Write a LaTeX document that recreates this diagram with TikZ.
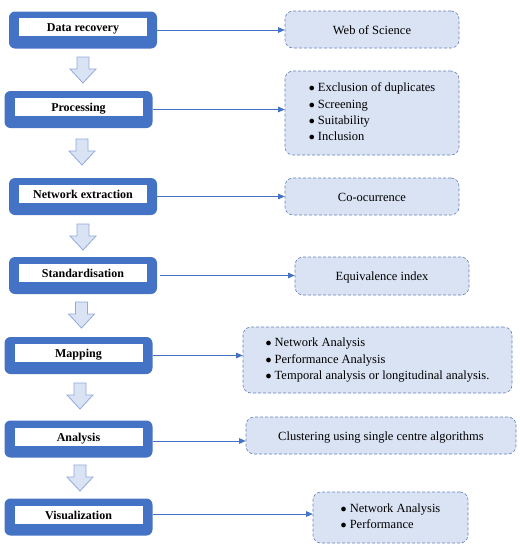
\documentclass[tikz,border=0pt]{standalone}
\usepackage{fontspec}
\setmainfont{Liberation Serif}
\usetikzlibrary{arrows.meta,calc}
\definecolor{bedge}{HTML}{4472C4}
\definecolor{lfill}{HTML}{DAE3F3}
\definecolor{rborder}{HTML}{6482BC}
\definecolor{aedge}{HTML}{8FAADC}
\tikzset{
  lout/.style={fill=bedge, rounded corners=6pt, minimum width=148pt, minimum height=37pt, inner sep=0pt},
  lin/.style={fill=white, minimum width=128pt, minimum height=18pt, inner sep=0pt, text height=11pt, text depth=2pt, font=\fontsize{12}{14}\selectfont\bfseries},
  rbox/.style={fill=lfill, draw=rborder, densely dashed, line width=0.6pt, rounded corners=8pt, inner sep=0pt, align=center, font=\fontsize{12.5}{16.3}\selectfont},
  rone/.style={rbox, text height=11pt, text depth=2pt},
  conn/.style={draw=bedge, line width=0.7pt, -{Triangle[length=6.5pt,width=5.5pt]}},
  darrow/.style={fill=lfill, draw=aedge, line width=0.8pt, line join=miter}
}
\newcommand{\downarr}[3]{% name, cx, top
  \coordinate (#1) at (#2,#3);
  \draw[darrow] ($(#1)+(-6,0)$) -- ++(12,0) -- ++(0,12) -- ++(7,0) -- ($(#1)+(0,26)$) -- ($(#1)+(-13,12)$) -- ++(7,0) -- cycle;
}
\begin{document}
\begin{tikzpicture}[x=1pt,y=-1pt]
\useasboundingbox (0,0) rectangle (520,550);
% left boxes
\node[lout] (L1) at (83,30) {};
\node[lin] (T1) at (83,27) {Data recovery};
\node[lout] (L2) at (78.5,109.5) {};
\node[lin] (T2) at (78.5,106.5) {Processing};
\node[lout] (L3) at (83,196.5) {};
\node[lin] (T3) at (83,193.5) {Network extraction};
\node[lout] (L4) at (83,275.5) {};
\node[lin] (T4) at (83,273) {Standardisation};
\node[lout] (L5) at (78.5,355.5) {};
\node[lin] (T5) at (78.5,353) {Mapping};
\node[lout] (L6) at (78.5,439) {};
\node[lin] (T6) at (78.5,436.5) {Analysis};
\node[lout] (L7) at (78.5,517) {};
\node[lin] (T7) at (78.5,514.5) {Visualization};
% down arrows
\downarr{A1}{83}{57}
\downarr{A2}{82}{139}
\downarr{A3}{83}{224}
\downarr{A4}{81.5}{302}
\downarr{A5}{80}{383}
\downarr{A6}{80}{465}
% right boxes
\node[rone, minimum width=174pt, minimum height=37pt] (R1) at (372,29.5) {Web of Science};
\node[rbox, minimum width=174pt, minimum height=84pt] (R2) at (372,113) {\begin{tabular}{@{}l@{}}$\bullet$ Exclusion of duplicates\\ $\bullet$ Screening\\ $\bullet$ Suitability\\ $\bullet$ Inclusion\end{tabular}};
\node[rone, minimum width=174pt, minimum height=37pt] (R3) at (372,196.5) {Co-ocurrence};
\node[rone, minimum width=174pt, minimum height=38pt] (R4) at (382,276) {Equivalence index};
\node[rbox, minimum width=269pt, minimum height=66pt] (R5) at (377.5,360) {\begin{tabular}{@{}l@{}}$\bullet$ Network Analysis\\ $\bullet$ Performance Analysis\\ $\bullet$ Temporal analysis or longitudinal analysis.\end{tabular}};
\node[rone, minimum width=270pt, minimum height=37pt] (R6) at (381,435.5) {Clustering using single centre algorithms};
\node[rbox, minimum width=155pt, minimum height=51pt] (R7) at (390.5,517.5) {\begin{tabular}{@{}l@{}}$\bullet$ Network Analysis\\ $\bullet$ Performance\end{tabular}};
% connectors
\draw[conn] (L1.east) -- (L1.east -| R1.west);
\draw[conn] (L2.east) -- (L2.east -| R2.west);
\draw[conn] (L3.east) -- (L3.east -| R3.west);
\draw[conn] ($(L4.east)+(3,0)$) -- (L4.east -| R4.west);
\draw[conn] (L5.east) -- (L5.east -| R5.west);
\draw[conn] ($(L6.east)+(0,2)$) -- ($(L6.east -| R6.west)+(0,2)$);
\draw[conn] ($(L7.east)+(0,-3)$) -- ($(L7.east -| R7.west)+(0,-3)$);
\end{tikzpicture}
\end{document}
